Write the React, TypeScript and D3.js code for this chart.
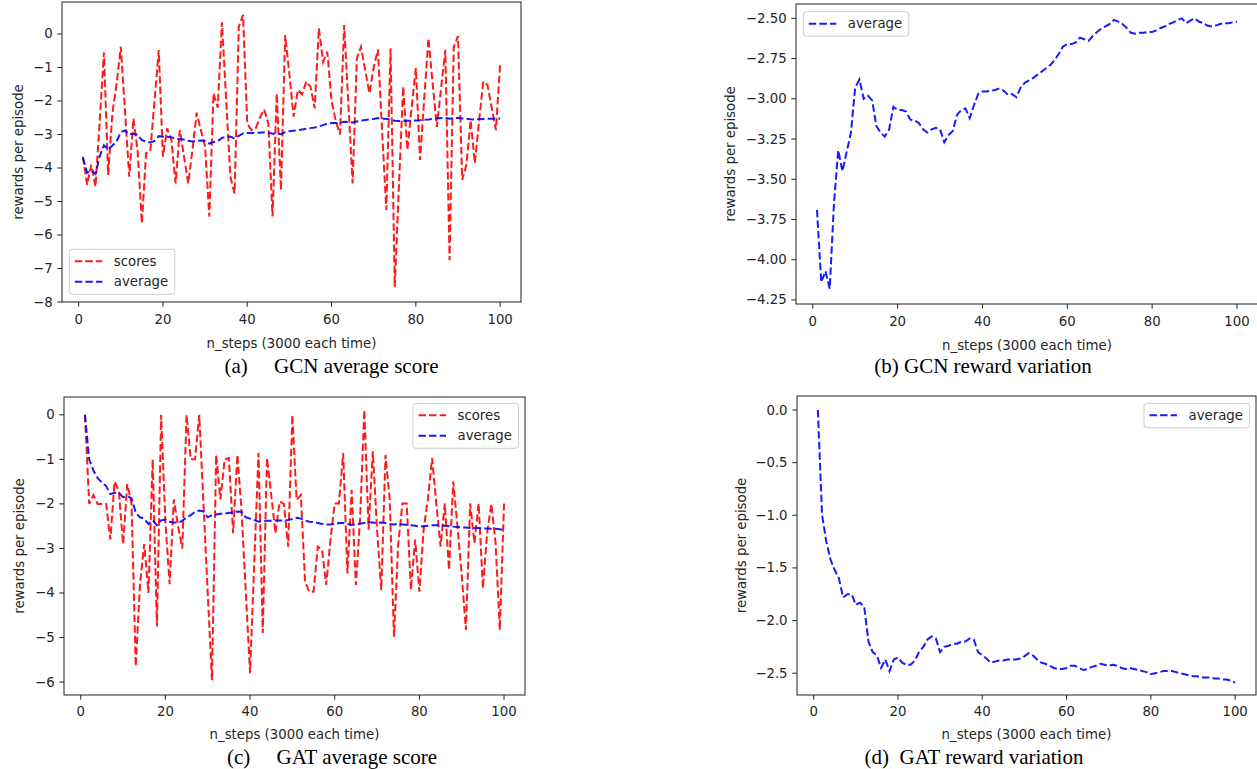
import React from 'react';
import * as d3 from 'd3';

const steps: number[] = d3.range(1, 101);

const gcnScores = [
  -3.66, -4.5, -3.9, -4.56, -2.6, -0.55, -4.21, -2.37, -1.5, -0.38,
  -2.3, -4.26, -2.52, -3.5, -5.65, -3.56, -3.5, -2.0, -0.48, -3.66,
  -2.82, -3.16, -4.46, -2.87, -3.66, -4.46, -3.46, -2.35, -2.87, -3.36,
  -5.45, -1.77, -2.2, 0.35, -1.97, -4.26, -4.76, 0.22, 0.57, -2.67,
  -2.87, -2.82, -2.5, -2.25, -2.67, -5.45, -1.77, -4.66, -0.03, -1.2,
  -2.47, -1.67, -1.8, -1.42, -1.57, -2.22, 0.17, -0.83, -0.53, -2.0,
  -2.6, -3.0, 0.27, -2.1, -4.46, -0.73, -0.38, -1.1, -1.77, -1.0,
  -0.46, -2.9, -5.25, -0.43, -7.55, -4.5, -1.57, -3.46, -2.2, -1.02,
  -3.76, -1.9, -0.13, -1.5, -2.77, -1.6, -0.48, -6.75, -0.38, -0.06,
  -4.36, -3.9, -2.57, -3.86, -2.6, -1.42, -1.52, -2.2, -2.87, -0.88,
];

const gcnAverage = [
  -3.69, -4.14, -4.07, -4.18, -3.65, -3.32, -3.45, -3.33, -3.21, -2.93,
  -2.88, -3.0, -2.98, -3.01, -3.17, -3.21, -3.235, -3.19, -3.05, -3.07,
  -3.07, -3.08, -3.13, -3.135, -3.15, -3.19, -3.21, -3.19, -3.18, -3.19,
  -3.27, -3.225, -3.2, -3.1, -3.07, -3.06, -3.12, -3.04, -2.97, -2.955,
  -2.955, -2.95, -2.945, -2.935, -2.95, -2.975, -2.97, -2.99, -2.93, -2.9,
  -2.885, -2.87, -2.85, -2.83, -2.81, -2.79, -2.76, -2.72, -2.675, -2.66,
  -2.66, -2.65, -2.62, -2.63, -2.64, -2.61, -2.585, -2.565, -2.55, -2.535,
  -2.51, -2.52, -2.535, -2.56, -2.59, -2.595, -2.59, -2.59, -2.585, -2.585,
  -2.575, -2.56, -2.55, -2.535, -2.525, -2.51, -2.5, -2.53, -2.515, -2.5,
  -2.52, -2.53, -2.545, -2.55, -2.545, -2.535, -2.53, -2.53, -2.525, -2.52,
];

const gatScores = [
  0.0, -2.0, -1.8, -2.0, -2.0, -2.0, -2.8, -1.5, -1.7, -2.9,
  -1.55, -2.0, -5.65, -3.8, -2.9, -4.0, -1.0, -4.75, 0.0, -2.4,
  -3.8, -1.9, -2.5, -3.0, 0.0, -1.0, -1.0, 0.0, -2.0, -4.0,
  -5.96, -0.9, -1.9, -1.0, -0.97, -2.66, -0.9, -2.17, -4.0, -5.8,
  -3.3, -0.86, -4.9, -0.97, -1.8, -2.66, -1.95, -2.0, -2.96, 0.0,
  -1.91, -1.8, -3.75, -3.97, -3.97, -2.96, -3.03, -3.82, -2.8, -1.99,
  -1.99, -0.86, -3.56, -1.69, -3.82, -2.32, 0.11, -2.58, -0.82, -2.58,
  -3.93, -0.9, -1.91, -4.98, -2.9, -1.99, -1.99, -3.93, -2.8, -3.97,
  -2.58, -1.9, -0.97, -1.99, -2.96, -1.99, -3.48, -1.5, -2.5, -3.6,
  -4.83, -1.99, -2.88, -1.99, -3.9, -2.66, -2.0, -2.88, -4.83, -1.99,
];

const gatAverage = [
  0.0, -1.0, -1.25, -1.42, -1.52, -1.6, -1.78, -1.75, -1.75, -1.85,
  -1.83, -1.87, -2.2, -2.3, -2.33, -2.45, -2.37, -2.48, -2.37, -2.35,
  -2.4, -2.42, -2.42, -2.38, -2.3, -2.25, -2.18, -2.15, -2.17, -2.3,
  -2.25, -2.24, -2.22, -2.22, -2.2, -2.2, -2.17, -2.18, -2.3, -2.33,
  -2.36, -2.4, -2.39, -2.38, -2.38, -2.37, -2.37, -2.37, -2.36, -2.34,
  -2.31, -2.33, -2.37, -2.4, -2.41, -2.43, -2.45, -2.46, -2.46, -2.45,
  -2.43, -2.43, -2.45, -2.47, -2.46, -2.44, -2.43, -2.41, -2.42, -2.43,
  -2.42, -2.43, -2.45, -2.46, -2.45, -2.46, -2.47, -2.48, -2.49, -2.51,
  -2.5, -2.49, -2.48, -2.48, -2.48, -2.49, -2.5, -2.51, -2.52, -2.53,
  -2.53, -2.54, -2.54, -2.54, -2.55, -2.55, -2.56, -2.56, -2.57, -2.59,
];

const xTicks = [0, 20, 40, 60, 80, 100];
const yTicksA = [-8, -7, -6, -5, -4, -3, -2, -1, 0];
const yTicksB = [-4.25, -4.0, -3.75, -3.5, -3.25, -3.0, -2.75, -2.5];
const yTicksC = [-6, -5, -4, -3, -2, -1, 0];
const yTicksD = [-2.5, -2.0, -1.5, -1.0, -0.5, 0];

const xLabel = 'n_steps (3000 each time)';
const yLabel = 'rewards per episode';
const captions = [
  '(a)     GCN average score',
  '(b) GCN reward variation',
  '(c)     GAT average score',
  '(d)  GAT reward variation',
];
const seriesNames = ['scores', 'average'];

const FONT = '"DejaVu Sans", sans-serif';
const SERIF = '"Liberation Serif", "Times New Roman", serif';
const RED = '#ff0000';
const BLUE = '#0000ff';
const DASH = '7.4,3.2';
const TXT = '#262626';
const FS = 13.3;

type Series = { name: string; values: number[]; color: string };
type PanelProps = {
  frame: [number, number, number, number];
  xDomain: [number, number];
  yDomain: [number, number];
  yTicks: number[];
  yFormat: (v: number) => string;
  series: Series[];
  legendPos: [number, number];
  yLabelX: number;
  caption: string;
  captionX: number;
  captionY: number;
  tickDy: number;
  labelDy: number;
};

function Panel(p: PanelProps) {
  const [l, t, r, b] = p.frame;
  const x = d3.scaleLinear().domain(p.xDomain).range([l, r]);
  const y = d3.scaleLinear().domain(p.yDomain).range([b, t]);
  const line = d3
    .line<number>()
    .x((_, i) => x(steps[i]))
    .y((v) => y(v));
  const [lx, ly] = p.legendPos;
  const lw = 105.5;
  const lh = 24.5 + 20.5 * (p.series.length - 1);
  return (
    <g>
      <rect x={l} y={t} width={r - l} height={b - t} fill="#fff" />
      {p.series.map((s) => (
        <path
          key={s.name}
          d={line(s.values) || ''}
          fill="none"
          stroke={s.color}
          strokeWidth={2}
          strokeDasharray={DASH}
          strokeOpacity={0.9}
        />
      ))}
      <rect x={l} y={t} width={r - l} height={b - t} fill="none" stroke="#222" strokeWidth={1} />
      {xTicks.map((v) => (
        <g key={'x' + v}>
          <line x1={x(v)} x2={x(v)} y1={b} y2={b + 4.7} stroke="#222" strokeWidth={1} />
          <text
            x={x(v)}
            y={b + p.tickDy}
            textAnchor="middle"
            dominantBaseline="central"
            fontFamily={FONT}
            fontSize={FS}
            fill={TXT}
          >
            {v}
          </text>
        </g>
      ))}
      {p.yTicks.map((v) => (
        <g key={'y' + v}>
          <line x1={l - 4.7} x2={l} y1={y(v)} y2={y(v)} stroke="#222" strokeWidth={1} />
          <text
            x={l - 9.4}
            y={y(v)}
            textAnchor="end"
            dominantBaseline="central"
            fontFamily={FONT}
            fontSize={FS}
            fill={TXT}
          >
            {p.yFormat(v)}
          </text>
        </g>
      ))}
      <text
        x={(l + r) / 2}
        y={b + p.labelDy}
        textAnchor="middle"
        dominantBaseline="central"
        fontFamily={FONT}
        fontSize={FS}
        fill={TXT}
      >
        {xLabel}
      </text>
      <text
        transform={`translate(${p.yLabelX},${(t + b) / 2}) rotate(-90)`}
        textAnchor="middle"
        dominantBaseline="central"
        fontFamily={FONT}
        fontSize={FS}
        fill={TXT}
      >
        {yLabel}
      </text>
      <g>
        <rect
          x={lx}
          y={ly}
          width={lw}
          height={lh}
          rx={3}
          fill="#fff"
          fillOpacity={0.8}
          stroke="#cccccc"
          strokeWidth={1}
        />
        {p.series.map((s, i) => {
          const cy = ly + 12 + 20.5 * i;
          return (
            <g key={'lg' + s.name}>
              <line
                x1={lx + 5.5}
                x2={lx + 33}
                y1={cy}
                y2={cy}
                stroke={s.color}
                strokeWidth={2}
                strokeDasharray={DASH}
                strokeOpacity={0.9}
              />
              <text
                x={lx + 44.5}
                y={cy}
                dominantBaseline="central"
                fontFamily={FONT}
                fontSize={FS}
                fill={TXT}
              >
                {s.name}
              </text>
            </g>
          );
        })}
      </g>
      <text
        x={p.captionX}
        y={p.captionY}
        textAnchor="middle"
        dominantBaseline="central"
        fontFamily={SERIF}
        fontSize={21}
        fill="#000"
        style={{ whiteSpace: 'pre' }}
      >
        {p.caption}
      </text>
    </g>
  );
}

const fmtInt = d3.format('d');
const fmt2 = d3.format('.2f');
const fmt1 = d3.format('.1f');

export default function App() {
  const xDomain: [number, number] = [-3.95, 104.95];
  return (
    <svg
      width={1257}
      height={769}
      style={{ position: 'absolute', left: 0, top: 0, background: '#fff' }}
    >
      <Panel
        frame={[62, 2, 521, 302]}
        xDomain={xDomain}
        yDomain={[-8, 0.955]}
        yTicks={yTicksA}
        yFormat={fmtInt}
        series={[
          { name: seriesNames[0], values: gcnScores, color: RED },
          { name: seriesNames[1], values: gcnAverage, color: BLUE },
        ]}
        legendPos={[69.3, 249.3]}
        yLabelX={18}
        caption={captions[0]}
        captionX={331.5}
        captionY={366}
        tickDy={17}
        labelDy={41}
      />
      <Panel
        frame={[796, 4, 1258, 304]}
        xDomain={xDomain}
        yDomain={[-4.275, -2.411]}
        yTicks={yTicksB}
        yFormat={fmt2}
        series={[{ name: seriesNames[1], values: gcnAverage, color: BLUE }]}
        legendPos={[803.3, 11.7]}
        yLabelX={730}
        caption={captions[1]}
        captionX={983}
        captionY={366}
        tickDy={17}
        labelDy={41}
      />
      <Panel
        frame={[64, 397, 525, 695]}
        xDomain={xDomain}
        yDomain={[-6.29, 0.4]}
        yTicks={yTicksC}
        yFormat={fmtInt}
        series={[
          { name: seriesNames[0], values: gatScores, color: RED },
          { name: seriesNames[1], values: gatAverage, color: BLUE },
        ]}
        legendPos={[413, 403.3]}
        yLabelX={19}
        caption={captions[2]}
        captionX={332}
        captionY={757}
        tickDy={16}
        labelDy={39}
      />
      <Panel
        frame={[797, 396, 1256, 695]}
        xDomain={xDomain}
        yDomain={[-2.707, 0.133]}
        yTicks={yTicksD}
        yFormat={(v) => (v === 0 ? '0.0' : fmt1(v))}
        series={[{ name: seriesNames[1], values: gatAverage, color: BLUE }]}
        legendPos={[1144, 403.3]}
        yLabelX={741}
        caption={captions[3]}
        captionX={974}
        captionY={757}
        tickDy={16}
        labelDy={39}
      />
    </svg>
  );
}
